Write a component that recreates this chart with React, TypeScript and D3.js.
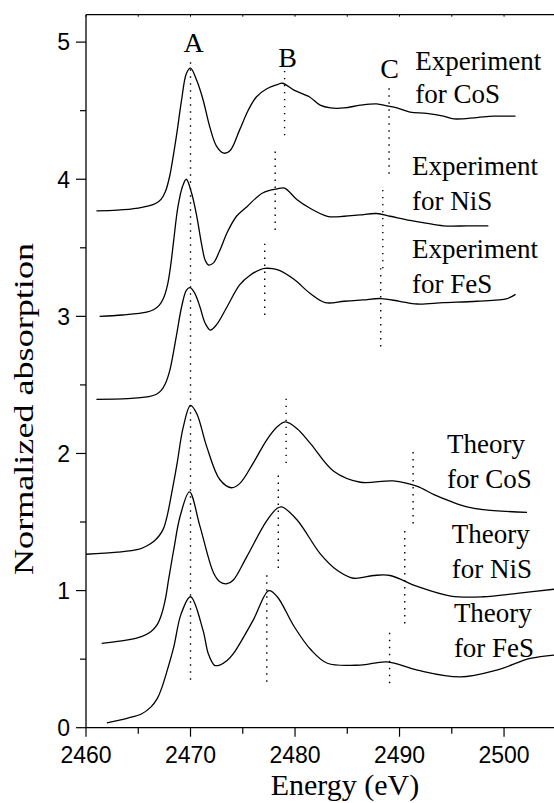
import React, { useEffect } from 'react';
import * as d3 from 'd3';

// energy (eV) / normalized absorption
const expCoS = [
  [2461.0, 3.77], [2463.0, 3.775], [2465.0, 3.79], [2466.0, 3.805], [2466.7, 3.825], [2467.2, 3.855],
  [2467.6, 3.91], [2468.0, 4.02], [2468.35, 4.17], [2468.7, 4.34], [2469.15, 4.58], [2469.6, 4.77],
  [2470.0, 4.81], [2470.6, 4.72], [2471.2, 4.58], [2471.85, 4.38], [2472.5, 4.24], [2473.2, 4.19],
  [2473.8, 4.21], [2474.7, 4.36], [2475.5, 4.50], [2476.3, 4.60], [2477.3, 4.66], [2478.3, 4.69],
  [2478.8, 4.70], [2479.9, 4.65], [2481.4, 4.60], [2482.4, 4.54], [2483.4, 4.52], [2484.7, 4.52],
  [2486.25, 4.54], [2487.8, 4.55], [2488.8, 4.535], [2489.75, 4.52], [2491.0, 4.49], [2492.6, 4.48],
  [2494.2, 4.46], [2495.2, 4.44], [2497.4, 4.45], [2499.0, 4.46], [2501.1, 4.46],
];
const expNiS = [
  [2461.3, 3.0], [2463.5, 3.01], [2465.8, 3.03], [2466.5, 3.05], [2467.0, 3.08], [2467.4, 3.13],
  [2467.8, 3.23], [2468.1, 3.37], [2468.4, 3.56], [2468.8, 3.80], [2469.25, 3.95], [2469.6, 4.0],
  [2470.1, 3.90], [2470.6, 3.73], [2471.05, 3.53], [2471.4, 3.41], [2471.7, 3.375], [2472.2, 3.39],
  [2472.8, 3.48], [2473.5, 3.61], [2474.4, 3.73], [2475.4, 3.80], [2476.9, 3.90], [2478.3, 3.93],
  [2479.0, 3.935], [2480.2, 3.85], [2481.4, 3.79], [2483.1, 3.73], [2484.7, 3.73], [2486.2, 3.74],
  [2487.8, 3.75], [2489.1, 3.73], [2491.0, 3.70], [2492.5, 3.68], [2494.2, 3.66], [2496.5, 3.66],
  [2498.5, 3.66],
];
const expFeS = [
  [2461.0, 2.395], [2464.0, 2.40], [2466.0, 2.415], [2466.7, 2.43], [2467.2, 2.46], [2467.6, 2.51],
  [2468.0, 2.60], [2468.35, 2.73], [2468.7, 2.88], [2469.15, 3.07], [2469.6, 3.19], [2469.95, 3.21],
  [2470.4, 3.17], [2470.9, 3.07], [2471.4, 2.95], [2471.9, 2.90], [2472.5, 2.94], [2473.5, 3.07],
  [2474.7, 3.23], [2475.7, 3.30], [2476.65, 3.34], [2477.1, 3.35], [2478.3, 3.34], [2479.9, 3.27],
  [2481.4, 3.17], [2482.9, 3.10], [2484.7, 3.11], [2486.5, 3.12], [2488.2, 3.13], [2490.0, 3.11],
  [2491.7, 3.09], [2494.2, 3.10], [2497.4, 3.11], [2500.3, 3.13], [2501.1, 3.16],
];
const thCoS = [
  [2460.0, 1.265], [2463.0, 1.28], [2465.0, 1.30], [2465.8, 1.325], [2466.5, 1.36], [2467.0, 1.40],
  [2467.4, 1.45], [2467.75, 1.54], [2468.1, 1.67], [2468.7, 1.92], [2469.3, 2.19], [2470.0, 2.35],
  [2470.6, 2.29], [2471.55, 2.05], [2472.8, 1.81], [2473.9, 1.75], [2474.7, 1.78], [2476.0, 1.93],
  [2477.3, 2.10], [2478.3, 2.195], [2479.1, 2.23], [2480.2, 2.18], [2481.5, 2.07], [2483.7, 1.87],
  [2486.25, 1.79], [2489.4, 1.80], [2491.7, 1.76], [2493.3, 1.70], [2494.9, 1.65], [2496.45, 1.61],
  [2498.0, 1.59], [2502.2, 1.57],
];
const thNiS = [
  [2461.5, 0.615], [2464.0, 0.64], [2465.3, 0.665], [2466.2, 0.70], [2466.8, 0.75], [2467.2, 0.82],
  [2467.6, 0.94], [2467.9, 1.08], [2468.4, 1.30], [2469.0, 1.54], [2469.9, 1.72], [2470.9, 1.47],
  [2472.2, 1.13], [2472.8, 1.065], [2473.5, 1.05], [2474.1, 1.077], [2475.4, 1.25], [2477.3, 1.51],
  [2478.3, 1.60], [2478.75, 1.61], [2480.2, 1.515], [2482.4, 1.27], [2484.0, 1.15], [2485.6, 1.09],
  [2487.5, 1.11], [2489.1, 1.11], [2491.7, 1.03], [2494.9, 0.96], [2498.0, 0.955], [2501.25, 0.98],
  [2504.8, 1.01],
];
const thFeS = [
  [2462.0, 0.036], [2464.0, 0.07], [2465.3, 0.10], [2466.2, 0.15], [2466.8, 0.21], [2467.2, 0.28],
  [2467.7, 0.40], [2468.4, 0.59], [2469.1, 0.83], [2470.0, 0.955], [2471.2, 0.71], [2471.7, 0.54],
  [2472.3, 0.455], [2472.8, 0.457], [2473.5, 0.49], [2474.1, 0.54], [2476.0, 0.785], [2477.5, 1.0],
  [2478.3, 0.955], [2479.9, 0.74], [2481.5, 0.57], [2483.1, 0.47], [2486.25, 0.457], [2488.8, 0.48],
  [2491.7, 0.42], [2495.8, 0.37], [2499.3, 0.42], [2502.5, 0.505], [2504.8, 0.53],
];
const spectra = [expCoS, expNiS, expFeS, thCoS, thNiS, thFeS];

// dotted guides: energy, from, to
const guides = [
  [2470.0, 0.35, 4.86],
  [2479.0, 4.32, 4.80], [2478.1, 3.63, 4.24], [2477.1, 3.01, 3.53],
  [2479.15, 1.93, 2.41], [2478.4, 1.165, 1.84], [2477.3, 0.335, 1.13],
  [2489.0, 4.04, 4.675], [2488.4, 3.35, 3.93], [2488.2, 2.78, 3.35],
  [2491.3, 1.49, 2.05], [2490.5, 0.76, 1.44], [2489.05, 0.325, 0.72],
];

const peakLetters = [['A', 2470.3, 4.93], ['B', 2479.3, 4.82], ['C', 2489.05, 4.74]];

const curveLabels = [
  ['Experiment', 2491.5, 4.797], ['for CoS', 2491.5, 4.557],
  ['Experiment', 2491.2, 4.03], ['for NiS', 2491.2, 3.776],
  ['Experiment', 2491.2, 3.426], ['for FeS', 2491.2, 3.171],
  ['Theory', 2494.55, 2.004], ['for CoS', 2494.55, 1.749],
  ['Theory', 2495.0, 1.347], ['for NiS', 2495.0, 1.092],
  ['Theory', 2495.2, 0.771], ['for FeS', 2495.2, 0.516],
];

const xMajor = [2460, 2470, 2480, 2490, 2500];
const xMinor = [2465, 2475, 2485, 2495];
const yMajor = [0, 1, 2, 3, 4, 5];
const yMinor = [0.5, 1.5, 2.5, 3.5, 4.5];

const W = 554, H = 803;
const serif = '"Liberation Serif", "Times New Roman", serif';
const sans = '"Liberation Sans", Arial, sans-serif';

export default function App() {
  useEffect(() => {
    document.body.style.margin = '0';
  }, []);

  const x = d3.scaleLinear().domain([2460, 2505]).range([86, 556.3]);
  const y = d3.scaleLinear().domain([0, 5.2]).range([727.7, 14.7]);
  const line = d3.line<number[]>().x(d => x(d[0])).y(d => y(d[1])).curve(d3.curveCatmullRom.alpha(0.5));

  const left = x(2460), bottom = y(0), top = y(5.2);

  return (
    <svg width={W} height={H} style={{ display: 'block', background: '#fff' }}>
      {/* frame */}
      <line x1={left} x2={W} y1={top} y2={top} stroke="#000" strokeWidth={1.3} />
      <line x1={left} x2={W} y1={bottom} y2={bottom} stroke="#000" strokeWidth={1.3} />
      <line x1={left} x2={left} y1={top} y2={bottom} stroke="#000" strokeWidth={1.3} />

      {xMajor.map(v => (
        <g key={'xm' + v}>
          <line x1={x(v)} x2={x(v)} y1={bottom} y2={bottom + 9} stroke="#000" strokeWidth={1.2} />
          <line x1={x(v)} x2={x(v)} y1={top} y2={top + 2} stroke="#000" strokeWidth={1} />
          <text x={x(v)} y={763} textAnchor="middle" fontFamily={sans} fontSize={23}>{v}</text>
        </g>
      ))}
      {xMinor.map(v => (
        <g key={'xn' + v}>
          <line x1={x(v)} x2={x(v)} y1={bottom} y2={bottom + 6} stroke="#000" strokeWidth={1.2} />
          <line x1={x(v)} x2={x(v)} y1={top} y2={top + 2} stroke="#000" strokeWidth={1} />
        </g>
      ))}
      {yMajor.map(v => (
        <g key={'ym' + v}>
          <line x1={left - 10} x2={left} y1={y(v)} y2={y(v)} stroke="#000" strokeWidth={1.2} />
          <text x={70} y={y(v)} dy="0.36em" textAnchor="end" fontFamily={sans} fontSize={23}>{v}</text>
        </g>
      ))}
      {yMinor.map(v => (
        <line key={'yn' + v} x1={left - 6} x2={left} y1={y(v)} y2={y(v)} stroke="#000" strokeWidth={1.2} />
      ))}

      <text x={345} y={795} textAnchor="middle" fontFamily={serif} fontSize={30}>Energy (eV)</text>
      <text transform={`translate(33,409) rotate(-90)`} textAnchor="middle" fontFamily={serif} fontSize={28}
        textLength={332} lengthAdjust="spacingAndGlyphs">Normalized absorption</text>

      {guides.map((g, i) => (
        <line key={'g' + i} x1={x(g[0])} x2={x(g[0])} y1={y(g[1])} y2={y(g[2])}
          stroke="#000" strokeWidth={1.4} strokeDasharray="1.4,5.6" />
      ))}

      {spectra.map((s, i) => (
        <path key={'s' + i} d={line(s) || ''} fill="none" stroke="#000" strokeWidth={1.3} strokeLinejoin="round" />
      ))}

      {peakLetters.map(([t, e, v]) => (
        <text key={'p' + t} x={x(e as number)} y={y(v as number)} textAnchor="middle" fontFamily={serif} fontSize={28}>{t}</text>
      ))}
      {curveLabels.map(([t, e, v], i) => (
        <text key={'l' + i} x={x(e as number)} y={y(v as number)} fontFamily={serif} fontSize={27}>{t}</text>
      ))}
    </svg>
  );
}
